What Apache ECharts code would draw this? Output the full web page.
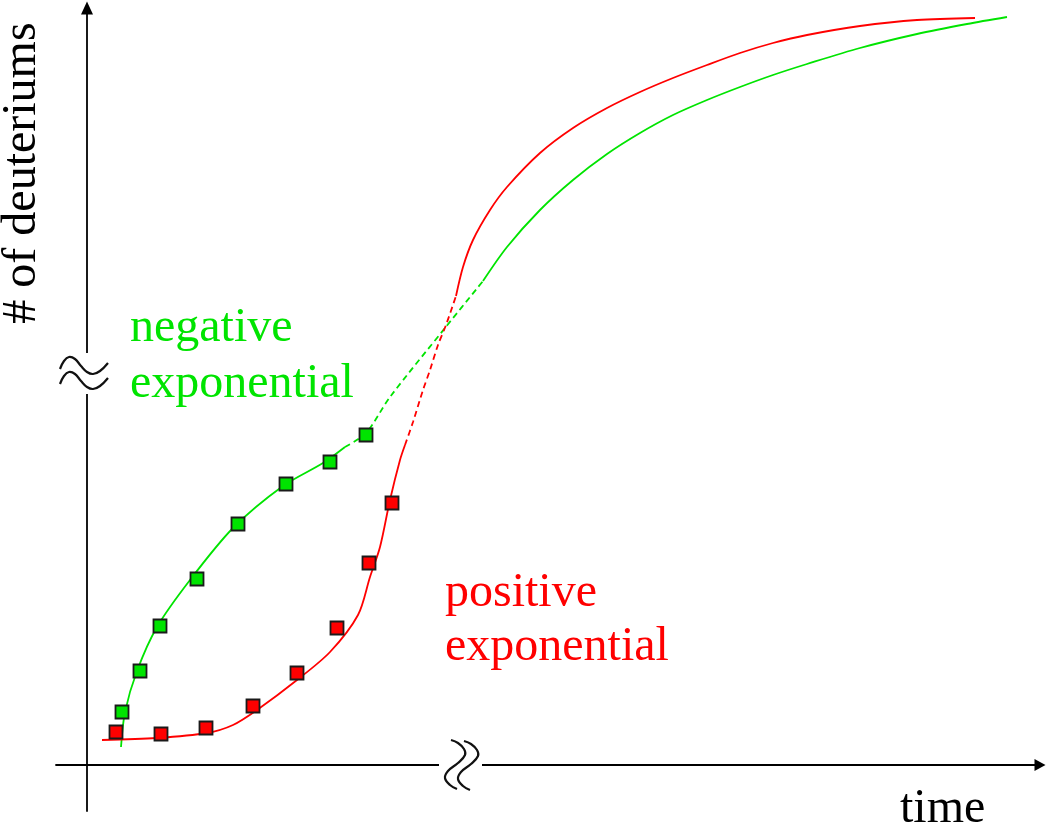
<!DOCTYPE html>
<html><head><meta charset="utf-8">
<script src="https://cdn.jsdelivr.net/npm/echarts@6/dist/echarts.min.js"></script>
<style>html,body{margin:0;padding:0;background:#fff}#c{width:1050px;height:828px}</style>
</head><body><div id="c"></div><script>
// ---- data (time, # of deuteriums), arbitrary units ----
const negSquares = [[3.5,5.3],[5.3,9.4],[7.3,13.9],[11.0,18.6],[15.1,24.1],[19.9,28.1],[24.3,30.3],[27.9,33.0]];
const posSquares = [[2.9,3.3],[7.4,3.1],[11.9,3.7],[16.6,5.9],[21.0,9.2],[25.0,13.7],[28.2,20.2],[30.5,26.2]];

const negFitEarly = [[3.4,1.8],[3.8,5.3],[5.0,9.4],[7.0,13.8],[10.3,18.5],[14.6,23.7],[19.6,27.9],[23.6,30.2],[25.8,31.8]];
const negFitBridge = [[25.8,31.8],[27.9,33.2],[30.3,36.8],[35.8,43.7],[39.6,48.4]];
const negFitLate = [[39.6,48.4],[42.0,51.8],[45.3,55.5],[48.6,58.5],[52.0,61.1],[55.3,63.2],[58.6,65.0],[62.0,66.5],[65.3,67.8],[68.6,69.0],[72.0,70.1],[77.3,71.7],[83.0,73.1],[88.0,74.1],[92.0,74.8]];

const posFitEarly = [[1.5,2.5],[7.0,2.7],[12.0,3.2],[14.6,4.0],[17.0,5.5],[21.0,8.5],[24.3,11.3],[27.1,15.0],[28.3,18.8],[29.3,21.8],[30.3,26.5],[31.3,30.5],[31.8,32.0]];
const posFitBridge = [[31.8,32.0],[32.6,34.3],[33.6,37.5],[34.3,39.5],[35.1,42.0],[35.9,44.0],[36.9,46.9]];
const posFitLate = [[36.9,46.9],[37.6,49.8],[38.6,52.5],[40.3,55.5],[42.0,57.8],[45.3,61.2],[48.6,63.7],[52.0,65.7],[55.3,67.3],[58.6,68.7],[62.0,70.0],[65.3,71.2],[68.6,72.2],[72.0,73.0],[77.3,73.9],[83.0,74.5],[88.8,74.7]];

const xName = 'time';
const yName = '# of deuteriums';
const negLabel = 'negative\nexponential';
const posLabel = 'positive\nexponential';

// ---- styles ----
const GREEN = '#00e400';
const RED = '#ff0000';
const FONT = '"Liberation Serif", "Times New Roman", serif';

function fit(data, color, dashed) {
  return {
    type: 'line', data: data, smooth: 0.3, showSymbol: false, silent: true, z: 2,
    lineStyle: { color: color, width: 1.8, type: dashed ? [6, 4] : 'solid' }
  };
}
function pts(data, color) {
  return {
    type: 'scatter', data: data, symbol: 'rect', symbolSize: 13, z: 5, silent: true,
    itemStyle: { color: color, borderColor: '#1a1a1a', borderWidth: 1.8, opacity: 1 }
  };
}

const chart = echarts.init(document.getElementById('c'));
chart.setOption({
  animation: false,
  backgroundColor: '#fff',
  grid: { left: 56, right: 10, top: 8, bottom: 17 },
  xAxis: {
    type: 'value', min: -3.1, max: 95.3,
    axisLine: { onZero: true, lineStyle: { color: '#000', width: 1.8 }, symbol: ['none', 'triangle'], symbolSize: [12, 11] },
    axisTick: { show: false }, axisLabel: { show: false }, splitLine: { show: false }
  },
  yAxis: {
    type: 'value', min: -4.6, max: 75.7,
    axisLine: { onZero: true, lineStyle: { color: '#000', width: 1.8 }, symbol: ['none', 'triangle'], symbolSize: [12, 13] },
    axisTick: { show: false }, axisLabel: { show: false }, splitLine: { show: false }
  },
  series: [
    fit(negFitEarly, GREEN, false), fit(negFitBridge, GREEN, true), fit(negFitLate, GREEN, false),
    fit(posFitEarly, RED, false), fit(posFitBridge, RED, true), fit(posFitLate, RED, false),
    pts(negSquares, GREEN), pts(posSquares, RED)
  ],
  graphic: [
    // y-axis break
    { type: 'rect', z: 100, shape: { x: 80, y: 353, width: 14, height: 41 }, style: { fill: '#fff' } },
    { type: 'polyline', z: 101, shape: { points: [[60,369],[64,361],[69,357],[75,359],[81,366],[87,372],[93,374],[100,371],[108,363]], smooth: 0.4 }, style: { stroke: '#111', lineWidth: 2.2, fill: null } },
    { type: 'polyline', z: 101, shape: { points: [[60,384],[64,376],[69,372],[75,374],[81,381],[87,387],[93,389],[100,386],[108,378]], smooth: 0.4 }, style: { stroke: '#111', lineWidth: 2.2, fill: null } },
    // x-axis break
    { type: 'rect', z: 100, shape: { x: 439, y: 760, width: 43, height: 10 }, style: { fill: '#fff' } },
    { type: 'polyline', z: 101, shape: { points: [[451,740],[458,743],[464,749],[465,755],[458,763],[448,771],[445,778],[450,785],[457,789]], smooth: 0.4 }, style: { stroke: '#111', lineWidth: 2.2, fill: null } },
    { type: 'polyline', z: 101, shape: { points: [[464,741],[471,744],[477,750],[478,756],[471,764],[461,772],[458,779],[463,786],[470,790]], smooth: 0.4 }, style: { stroke: '#111', lineWidth: 2.2, fill: null } },
    // texts
    { type: 'text', z: 110, x: 130, y: 300, style: { text: negLabel, font: '48px ' + FONT, fill: GREEN, lineHeight: 56, verticalAlign: 'top', align: 'left' } },
    { type: 'text', z: 110, x: 445, y: 566, style: { text: posLabel, font: '48px ' + FONT, fill: RED, lineHeight: 54, verticalAlign: 'top', align: 'left' } },
    { type: 'text', z: 110, x: 22, y: 173, rotation: Math.PI / 2, style: { text: yName, font: '48px ' + FONT, fill: '#000', verticalAlign: 'middle', align: 'center' } },
    { type: 'text', z: 110, x: 900, y: 809, style: { text: xName, font: '48px ' + FONT, fill: '#000', verticalAlign: 'middle', align: 'left' } }
  ]
});
</script></body></html>
